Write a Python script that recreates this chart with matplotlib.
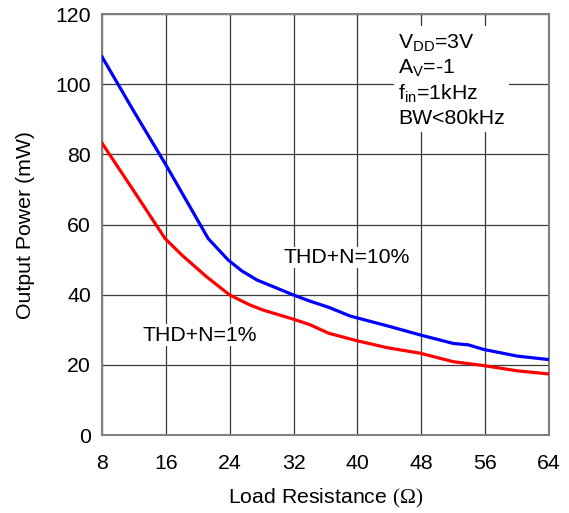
import matplotlib
matplotlib.use("Agg")
import matplotlib.pyplot as plt

plt.rcParams['font.family'] = ['Liberation Sans', 'DejaVu Sans']
plt.rcParams['mathtext.fontset'] = 'custom'
plt.rcParams['mathtext.rm'] = 'Liberation Serif'

# load resistance (ohm) vs output power (mW)
r_10 = [8, 12, 16, 21.3, 23.8, 25.5, 27.4, 32, 34, 36.4, 39.1, 44.1, 47.9, 52, 53.9, 55.8, 60, 64]
p_10 = [107.8, 92.2, 77, 56, 49.9, 46.8, 44.2, 39.9, 38.2, 36.4, 33.9, 30.9, 28.5, 26.1, 25.7, 24.4, 22.5, 21.5]

r_1 = [8, 12, 15.9, 18, 21.1, 24, 26.5, 28.2, 32, 34.1, 36.4, 39.9, 43.7, 47.9, 52, 55.8, 60, 64]
p_1 = [83.2, 69.5, 56, 51.3, 45.1, 39.9, 37.1, 35.6, 33, 31.4, 29, 26.9, 24.9, 23.3, 20.9, 19.8, 18.3, 17.4]

xticks = [8, 16, 24, 32, 40, 48, 56, 64]
yticks = [0, 20, 40, 60, 80, 100, 120]

fs = 15.3
fig = plt.figure(figsize=(5.69, 5.13), dpi=100)
ax = fig.add_axes([0.1793, 0.152, 0.9649 - 0.1793, 0.9727 - 0.152])

ax.plot(r_10, p_10, color='#0000ff', lw=2.3, zorder=3)
ax.plot(r_1, p_1, color='#ff0000', lw=2.3, zorder=3)

ax.set_xlim(8, 64)
ax.set_ylim(0, 120)
ax.set_xticks(xticks)
ax.set_yticks(yticks)
ax.grid(True, color='#3a3a3a', lw=0.9)
ax.tick_params(length=0, labelsize=fs)
ax.tick_params(axis='x', pad=14)
ax.tick_params(axis='y', pad=8)
for s in ax.spines.values():
    s.set_color('#808080')
    s.set_linewidth(1.5)

ax.set_xlabel(r'Load Resistance $\mathrm{(\Omega)}$', fontsize=fs, labelpad=10)
ax.set_ylabel('Output Power (mW)', fontsize=fs, labelpad=15)

box = dict(facecolor='white', edgecolor='none', pad=1)
ax.text(38.7, 50.6, 'THD+N=10%', fontsize=fs, ha='center', va='center', bbox=box, zorder=4)
ax.text(20.3, 28.5, 'THD+N=1%', fontsize=fs, ha='center', va='center', bbox=box, zorder=4)

cond = (r'V$_{\mathregular{DD}}$=3V' + '\n' +
        r'A$_{\mathregular{V}}$=-1' + '\n' +
        r'f$_{\mathregular{in}}$=1kHz' + '\n' +
        'BW<80kHz')
ax.text(45.1, 114.8, cond, fontsize=fs, ha='left', va='top', linespacing=1.22,
        bbox=dict(facecolor='white', edgecolor='none', pad=3), zorder=4)

fig.savefig('out.png', dpi=100)
